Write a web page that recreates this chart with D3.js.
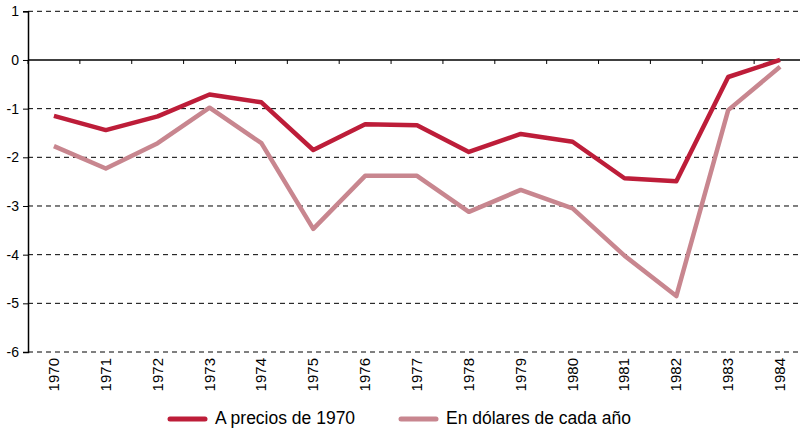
<!DOCTYPE html>
<html>
<head>
<meta charset="utf-8">
<script src="https://cdn.jsdelivr.net/npm/d3@7"></script>
<style>
  body { margin: 0; background: #fff; }
  text { font-family: "Liberation Sans", Arial, sans-serif; fill: #000; }
</style>
</head>
<body>
<div id="chart"></div>
<script>
const years = ['1970', '1971', '1972', '1973', '1974', '1975', '1976', '1977',
  '1978', '1979', '1980', '1981', '1982', '1983', '1984'];
const precios1970 = [-1.15, -1.44, -1.16, -0.71, -0.87, -1.85, -1.32, -1.34,
  -1.89, -1.52, -1.68, -2.43, -2.49, -0.35, 0.0];
const dolaresCadaAno = [-1.77, -2.23, -1.71, -0.98, -1.71, -3.47, -2.38, -2.38,
  -3.12, -2.67, -3.05, -4.02, -4.85, -1.03, -0.14];
const yTicks = [1, 0, -1, -2, -3, -4, -5, -6];
const seriesNames = ['A precios de 1970', 'En dólares de cada año'];

const width = 800, height = 428;
const plotLeft = 28, plotRight = 806, plotTop = 11.3, plotBottom = 352;
const colors = ['#bd1d39', '#c8868f'];

const svg = d3.select('#chart')
  .append('svg')
  .attr('width', width)
  .attr('height', height);

const x = d3.scaleBand()
  .domain(years)
  .range([plotLeft, plotRight]);

const y = d3.scaleLinear()
  .domain([-6, 1])
  .range([plotBottom, plotTop]);

// dashed gridlines
svg.append('g')
  .selectAll('line')
  .data(yTicks.filter(d => d !== 0))
  .enter()
  .append('line')
  .attr('x1', plotLeft)
  .attr('x2', width)
  .attr('y1', d => y(d))
  .attr('y2', d => y(d))
  .attr('stroke', '#000')
  .attr('stroke-width', 1)
  .attr('stroke-dasharray', '5,4');

// y axis
const yAxis = svg.append('g')
  .attr('transform', 'translate(' + plotLeft + ',0)')
  .call(d3.axisLeft(y).tickValues(yTicks).tickSize(5).tickPadding(4).tickFormat(d => String(d)));
yAxis.select('.domain').attr('stroke', '#000').attr('stroke-width', 1.5);
yAxis.selectAll('text').style('font-size', '14px');

// zero line with category ticks
svg.append('line')
  .attr('x1', plotLeft)
  .attr('x2', width)
  .attr('y1', y(0))
  .attr('y2', y(0))
  .attr('stroke', '#000')
  .attr('stroke-width', 1.5);

svg.append('g')
  .selectAll('line')
  .data(years)
  .enter()
  .append('line')
  .attr('x1', d => x(d))
  .attr('x2', d => x(d))
  .attr('y1', y(0))
  .attr('y2', y(0) + 4)
  .attr('stroke', '#000')
  .attr('stroke-width', 1);

// year labels
svg.append('g')
  .selectAll('text')
  .data(years)
  .enter()
  .append('text')
  .text(d => d)
  .attr('transform', d => 'translate(' + (x(d) + x.bandwidth() / 2 + 5) + ',' + (plotBottom + 6) + ')rotate(-90)')
  .style('text-anchor', 'end')
  .style('font-size', '15px');

// lines
const line = d3.line()
  .x((d, i) => x(years[i]) + x.bandwidth() / 2)
  .y(d => y(d));

[dolaresCadaAno, precios1970].forEach((s, k) => {
  svg.append('path')
    .datum(s)
    .attr('d', line)
    .attr('fill', 'none')
    .attr('stroke', colors[1 - k])
    .attr('stroke-width', 4.5)
    .attr('stroke-linejoin', 'round');
});

// legend
const legendX = [170, 401];
const legend = svg.append('g');
seriesNames.forEach((name, i) => {
  legend.append('line')
    .attr('x1', legendX[i])
    .attr('x2', legendX[i] + 35)
    .attr('y1', 419)
    .attr('y2', 419)
    .attr('stroke', colors[i])
    .attr('stroke-width', 5)
    .attr('stroke-linecap', 'round');
  legend.append('text')
    .text(name)
    .attr('x', legendX[i] + 45)
    .attr('y', 424)
    .style('font-size', '17.5px');
});
</script>
</body>
</html>
